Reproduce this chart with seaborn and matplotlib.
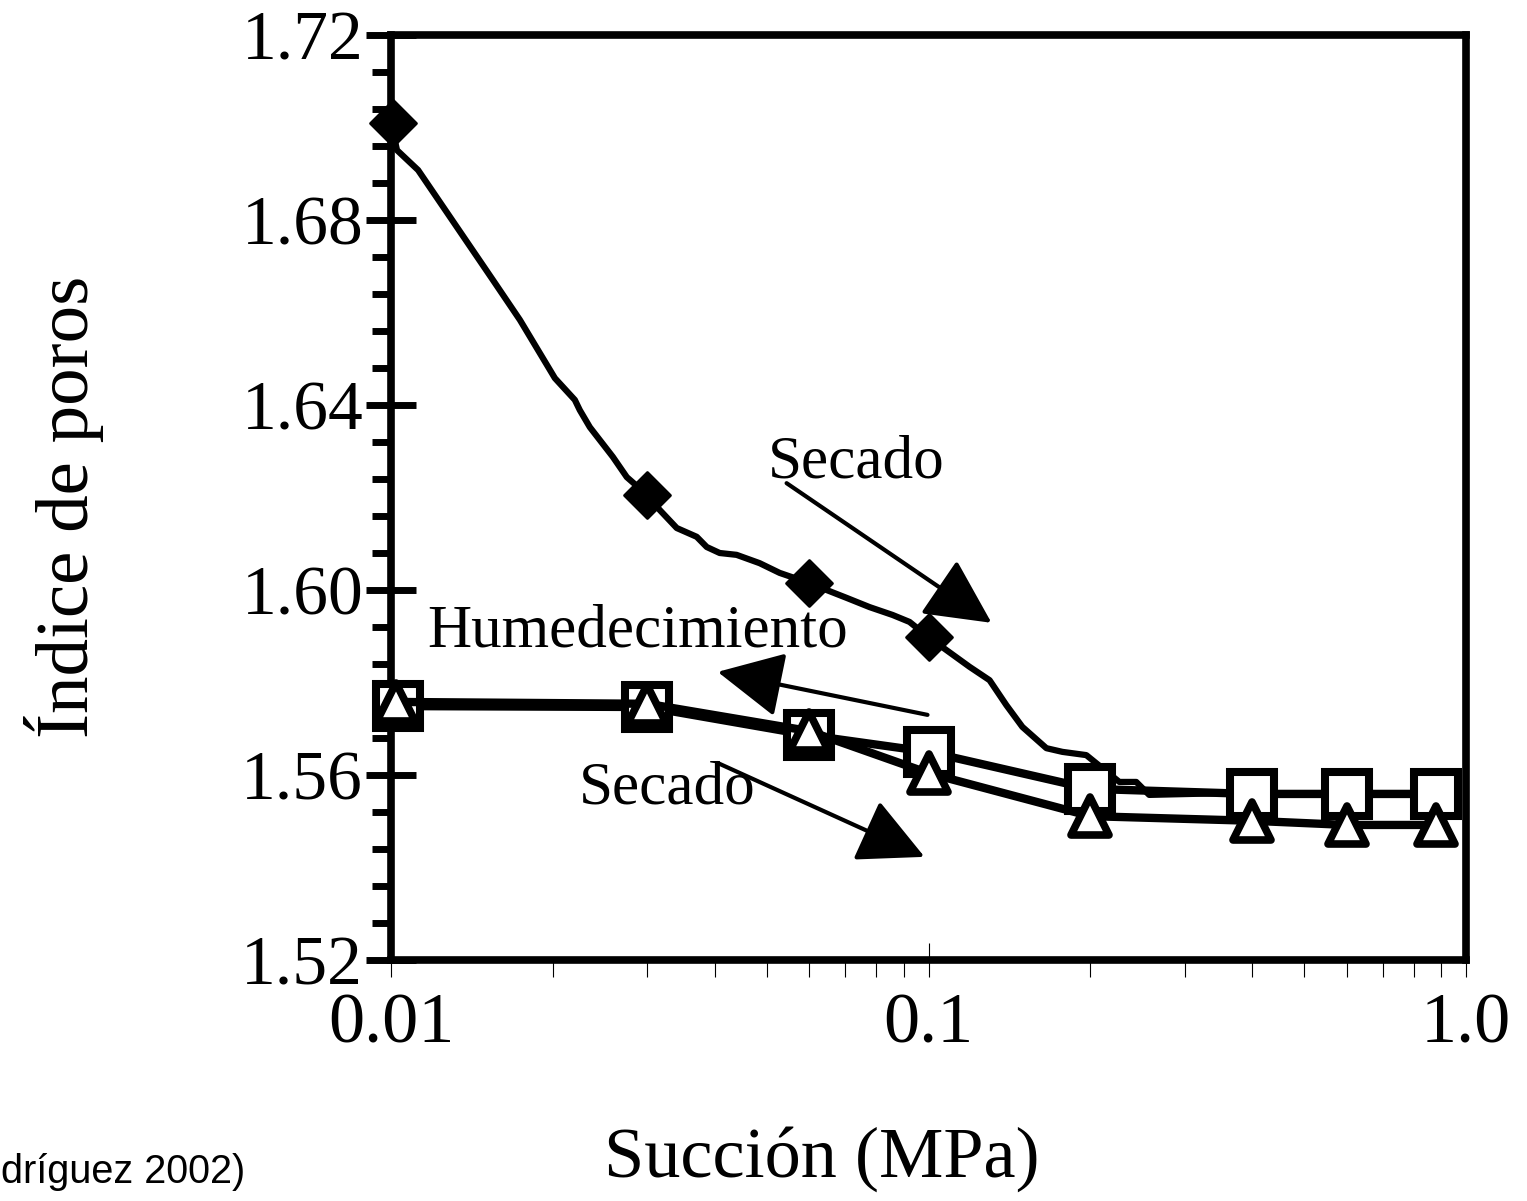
import numpy as np
import pandas as pd
import seaborn as sns
import matplotlib
matplotlib.use("Agg")
import matplotlib.pyplot as plt
from matplotlib.markers import MarkerStyle
from matplotlib.patches import ArrowStyle
from matplotlib.ticker import FixedLocator, FixedFormatter, NullFormatter

# ---------------- data ----------------
# Secado (first drying path) - continuous measured curve
secado_curve_x = [0.0100, 0.01026, 0.01123, 0.01548, 0.01737, 0.02018, 0.02198, 0.02245,
                  0.02344, 0.02586, 0.02746, 0.0300, 0.03162, 0.03401, 0.03705, 0.03867,
                  0.04088, 0.04395, 0.04851, 0.05285, 0.0600, 0.06462, 0.07040, 0.07770,
                  0.08575, 0.09219, 0.1000, 0.1080, 0.1192, 0.1299, 0.1396, 0.1495,
                  0.1657, 0.1775, 0.1966, 0.2265, 0.2435, 0.2574, 0.3627, 0.8800]
secado_curve_y = [1.7010, 1.6951, 1.6908, 1.6670, 1.6584, 1.6458, 1.6411, 1.6389,
                  1.6352, 1.6288, 1.6244, 1.6205, 1.6173, 1.6134, 1.6115, 1.6093,
                  1.6080, 1.6076, 1.6058, 1.6037, 1.6015, 1.6000, 1.5983, 1.5963,
                  1.5946, 1.5931, 1.5898, 1.5870, 1.5834, 1.5805, 1.5751, 1.5704,
                  1.5658, 1.5650, 1.5643, 1.5585, 1.5585, 1.5557, 1.5561, 1.5561]
# Secado - marked points (diamonds)
secado_pts_x = [0.0101, 0.03, 0.06, 0.1]
secado_pts_y = [1.7010, 1.6205, 1.6015, 1.5898]

# Humedecimiento (open squares)
humed_x = [0.0103, 0.03, 0.06, 0.1, 0.2, 0.4, 0.6, 0.88]
humed_y = [1.5749, 1.5747, 1.5686, 1.5650, 1.5570, 1.5559, 1.5559, 1.5559]

# Secado after wetting (open triangles)
secado2_x = [0.0102, 0.03, 0.06, 0.1, 0.2, 0.4, 0.6, 0.88]
secado2_y = [1.5758, 1.5754, 1.5695, 1.5604, 1.5511, 1.5501, 1.5492, 1.5492]

# axis ticks / labels
y_major = [1.52, 1.56, 1.60, 1.64, 1.68, 1.72]
y_labels = ["1.52", "1.56", "1.60", "1.64", "1.68", "1.72"]
x_major = [0.01, 0.1, 1.0]
x_labels = ["0.01", "0.1", "1.0"]

# ---------------- style ----------------
sns.set_theme(style="white")
plt.rcParams["font.family"] = ["Liberation Serif", "DejaVu Serif"]
plt.rcParams["text.color"] = "black"
plt.rcParams["axes.labelcolor"] = "black"
plt.rcParams["xtick.color"] = "black"
plt.rcParams["ytick.color"] = "black"

W, H = 1527, 1201
fig = plt.figure(figsize=(W / 100, H / 100), dpi=100)
fig.patch.set_facecolor("white")
L, R, T, B = 391, 1466, 35, 960
ax = fig.add_axes([L / W, 1 - B / H, (R - L) / W, (B - T) / H])
ax.set_facecolor("white")
ax.set_xscale("log")

# Secado curve (line) + diamonds
sns.lineplot(x=secado_curve_x, y=secado_curve_y, ax=ax, color="black", lw=4.5,
             sort=False, estimator=None, legend=False, zorder=2)
sns.lineplot(x=secado_pts_x, y=secado_pts_y, ax=ax, color="black", linestyle="",
             marker=MarkerStyle("D", joinstyle="round"), markersize=23,
             markerfacecolor="black", markeredgecolor="black", markeredgewidth=2,
             sort=False, estimator=None, legend=False, zorder=3, clip_on=False)

# Humedecimiento - squares
sns.lineplot(x=humed_x, y=humed_y, ax=ax, color="black", lw=6,
             marker=MarkerStyle("s"), markersize=32, markerfacecolor="white",
             markeredgecolor="black", markeredgewidth=5.8,
             sort=False, estimator=None, legend=False, zorder=4, clip_on=False)

# Secado 2 - triangles
sns.lineplot(x=secado2_x, y=secado2_y, ax=ax, color="black", lw=6,
             marker=MarkerStyle("^", joinstyle="round"), markersize=27,
             markerfacecolor="white", markeredgecolor="black", markeredgewidth=5.5,
             sort=False, estimator=None, legend=False, zorder=5, clip_on=False)

# ---------------- axes ----------------
ax.set_xlim(0.01, 1.0)
ax.set_ylim(1.52, 1.72)

ax.xaxis.set_major_locator(FixedLocator(x_major))
ax.xaxis.set_major_formatter(FixedFormatter(x_labels))
x_minor = [k * 10.0 ** e for e in (-2, -1) for k in range(2, 10)]
ax.xaxis.set_minor_locator(FixedLocator(x_minor))
ax.xaxis.set_minor_formatter(NullFormatter())

ax.yaxis.set_major_locator(FixedLocator(y_major))
ax.yaxis.set_major_formatter(FixedFormatter(y_labels))
y_minor = [round(1.52 + 0.008 * i, 3) for i in range(26)]
ax.yaxis.set_minor_locator(FixedLocator(y_minor))

ax.tick_params(axis="y", which="major", direction="inout", length=36, width=5,
               color="black", labelsize=50, pad=2, labelcolor="black", left=True)
ax.tick_params(axis="y", which="minor", direction="out", length=14, width=5,
               color="black", left=True)
ax.tick_params(axis="x", which="major", direction="inout", length=24.5, width=0.8,
               color="black", labelsize=52, pad=11, labelcolor="black", bottom=True)
ax.tick_params(axis="x", which="minor", direction="out", length=12.5, width=0.8,
               color="black", bottom=True)

for s in ax.spines.values():
    s.set_visible(True)
    s.set_color("black")
    s.set_linewidth(5.5)
ax.grid(False)

# axis labels
ax.set_xlabel("Succión (MPa)", fontsize=52, color="black")
ax.xaxis.label.set(va="baseline", ha="center")
ax.xaxis.set_label_coords((822 - L) / (R - L), (B - 1177) / (B - T))
ax.set_ylabel("Índice de poros", fontsize=54, color="black")
ax.yaxis.label.set(va="baseline", ha="center")
ax.yaxis.set_label_coords((88 - L) / (R - L), (B - 507) / (B - T))

# annotations
ax.text(0.07336, 1.6244, "Secado", fontsize=44, ha="center", va="baseline",
        color="black", zorder=6)
ax.text(0.02878, 1.5877, "Humedecimiento", fontsize=44, ha="center", va="baseline",
        color="black", zorder=6)
ax.text(0.03271, 1.5539, "Secado", fontsize=44, ha="center", va="baseline",
        color="black", zorder=6)

astyle = ArrowStyle("-|>", head_length=1.0, head_width=0.5)
for tail, tip in [((0.05445, 1.6231), (0.1310, 1.5929)),
                  ((0.09957, 1.5730), (0.04053, 1.5823)),
                  ((0.04053, 1.5626), (0.0983, 1.5423))]:
    ax.annotate("", xy=tip, xytext=tail,
                arrowprops=dict(arrowstyle=astyle, lw=3, color="black",
                                mutation_scale=41, shrinkA=0, shrinkB=0),
                zorder=6)

# source note (only its visible part, as it appears at the left edge of the original)
fig.text(1 / W, 1 - 1183 / H, "dríguez 2002)", ha="left", va="baseline",
         fontsize=28.5, family=["Liberation Sans", "DejaVu Sans"], color="black")

fig.savefig("out.png", dpi=100, facecolor="white")
